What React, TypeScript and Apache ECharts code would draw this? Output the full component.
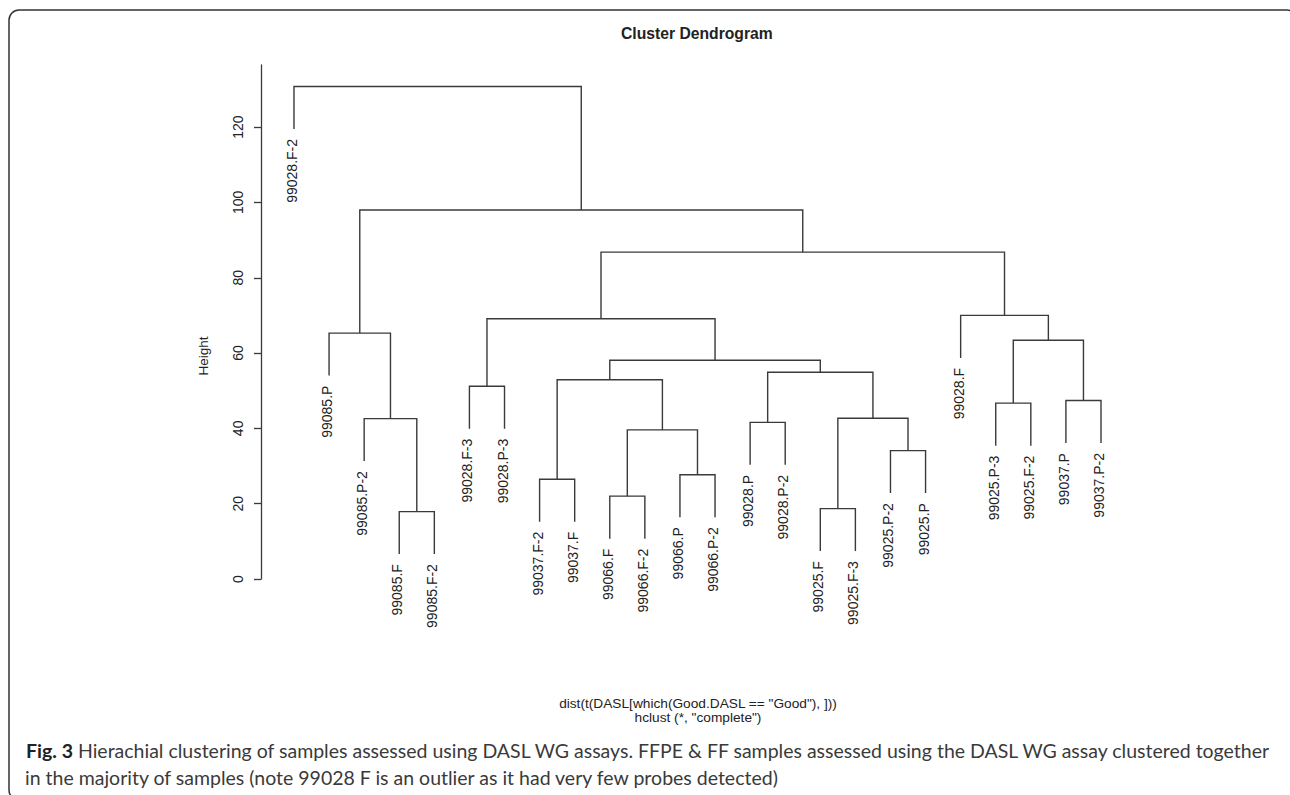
import React, { useEffect, useRef } from "react";
import * as echarts from "echarts";

// Leaf labels in dendrogram order (left to right)
const leafLabels = [
  "99028.F-2", "99085.P", "99085.P-2", "99085.F", "99085.F-2",
  "99028.F-3", "99028.P-3", "99037.F-2", "99037.F", "99066.F",
  "99066.F-2", "99066.P", "99066.P-2", "99028.P", "99028.P-2",
  "99025.F", "99025.F-3", "99025.P-2", "99025.P", "99028.F",
  "99025.P-3", "99025.F-2", "99037.P", "99037.P-2",
];

// hclust-style merge matrix: negative = leaf (1-based position in leafLabels), positive = earlier merge row (1-based)
const mergeLeft = [-4, -16, -10, -8, -12, -18, 3, -14, -3, 2, -21, -23, -6, 4, 8, 14, 11, -2, 13, -20, 19, 18, -1];
const mergeRight = [-5, -17, -11, -9, -13, -19, 5, -15, 1, 6, -22, -24, -7, 7, 10, 15, 12, 9, 16, 17, 20, 21, 22];
const mergeHeights = [
  17.9, 18.7, 22.0, 26.5, 27.7, 34.1, 39.6, 41.6, 42.6, 42.7, 46.7, 47.4,
  51.2, 52.9, 54.9, 58.1, 63.4, 65.3, 69.1, 70.0, 86.8, 98.0, 130.8,
];

const yTicks = [0, 20, 40, 60, 80, 100, 120];

const titleText = "Cluster Dendrogram";
const yName = "Height";
const subLine1 = 'dist(t(DASL[which(Good.DASL == "Good"), ]))';
const subLine2 = 'hclust (*, "complete")';
const captionBold = "Fig. 3";
const captionLine1 =
  " Hierachial clustering of samples assessed using DASL WG assays. FFPE & FF samples assessed using the DASL WG assay clustered together";
const captionLine2 =
  "in the majority of samples (note 99028 F is an outlier as it had very few probes detected)";

const LINE = "#3a3a3a";
const RFONT = "Liberation Sans, Arial, sans-serif";

function buildTree() {
  const hMin = Math.min(...mergeHeights);
  const hMax = Math.max(...mergeHeights);
  const hang = 0.1 * (hMax - hMin);
  const nodeX: number[] = [];
  const rows: number[][] = [];
  const labelsL: (string | null)[] = [];
  const labelsR: (string | null)[] = [];
  for (let i = 0; i < mergeHeights.length; i++) {
    const h = mergeHeights[i];
    const child = (c: number) => {
      if (c < 0) {
        return { x: -c, y: h - hang, label: leafLabels[-c - 1] };
      }
      return { x: nodeX[c - 1], y: mergeHeights[c - 1], label: null };
    };
    const L = child(mergeLeft[i]);
    const R = child(mergeRight[i]);
    nodeX.push((L.x + R.x) / 2);
    rows.push([L.x, L.y, R.x, R.y, h]);
    labelsL.push(L.label);
    labelsR.push(R.label);
  }
  return { rows, labelsL, labelsR };
}

export default function App() {
  const ref = useRef<HTMLDivElement>(null);

  useEffect(() => {
    document.body.style.margin = "0";
    if (!ref.current) return;
    const chart = echarts.init(ref.current, undefined, { renderer: "svg" });
    const { rows, labelsL, labelsR } = buildTree();

    const leafText = (x: number, y: number, text: string) => ({
      type: "text",
      x: x - 2,
      y: y + 10,
      rotation: Math.PI / 2,
      style: {
        text,
        fill: "#222",
        font: `14px ${RFONT}`,
        align: "right",
        verticalAlign: "middle",
      },
    });

    const option: any = {
      animation: false,
      backgroundColor: "#fff",
      title: {
        text: titleText,
        left: 621,
        top: 25,
        padding: 0,
        textStyle: {
          fontSize: 15.7,
          fontWeight: "bold",
          fontFamily: RFONT,
          color: "#222",
        },
      },
      grid: { left: 261, right: 189, top: 65, bottom: 216 },
      xAxis: {
        type: "value",
        min: 0.06,
        max: 24,
        show: false,
      },
      yAxis: {
        type: "value",
        min: 0,
        max: 136.5,
        interval: 20,
        splitLine: { show: false },
        axisLine: { show: true, lineStyle: { color: LINE, width: 1.3 } },
        axisTick: {
          show: true,
          length: 7,
          customValues: yTicks,
          lineStyle: { color: LINE, width: 1.3 },
        },
        axisLabel: {
          rotate: 90,
          margin: 16,
          customValues: yTicks,
          fontSize: 14,
          fontFamily: RFONT,
          color: "#222",
        },
      },
      series: [
        {
          type: "custom",
          coordinateSystem: "cartesian2d",
          clip: false,
          data: rows,
          encode: { x: [0, 2], y: [1, 3, 4] },
          renderItem: (params: any, api: any) => {
            const i = params.dataIndex;
            const pL0 = api.coord([api.value(0), api.value(1)]);
            const pL1 = api.coord([api.value(0), api.value(4)]);
            const pR1 = api.coord([api.value(2), api.value(4)]);
            const pR0 = api.coord([api.value(2), api.value(3)]);
            const children: any[] = [
              {
                type: "polyline",
                shape: { points: [pL0, pL1, pR1, pR0] },
                style: { stroke: LINE, lineWidth: 1.4, fill: null },
              },
            ];
            if (labelsL[i]) children.push(leafText(pL0[0], pL0[1], labelsL[i] as string));
            if (labelsR[i]) children.push(leafText(pR0[0], pR0[1], labelsR[i] as string));
            return { type: "group", children };
          },
        },
      ],
      graphic: [
        {
          type: "rect",
          shape: { x: 9, y: 10, width: 1288, height: 790, r: 10 },
          style: { fill: "none", stroke: "#333", lineWidth: 1.5 },
          silent: true,
        },
        {
          type: "text",
          x: 203,
          y: 356,
          rotation: Math.PI / 2,
          style: {
            text: yName,
            font: `13.5px ${RFONT}`,
            fill: "#222",
            align: "center",
            verticalAlign: "middle",
          },
        },
        {
          type: "text",
          x: 698,
          y: 703,
          style: {
            text: subLine1,
            font: `13.7px ${RFONT}`,
            fill: "#222",
            align: "center",
            verticalAlign: "middle",
          },
        },
        {
          type: "text",
          x: 698,
          y: 717,
          style: {
            text: subLine2,
            font: `13.7px ${RFONT}`,
            fill: "#222",
            align: "center",
            verticalAlign: "middle",
          },
        },
        {
          type: "text",
          x: 26,
          y: 750,
          style: {
            text: `{b|${captionBold}}${captionLine1}`,
            font: "19.5px Lato, sans-serif",
            fill: "#3a3a3a",
            align: "left",
            verticalAlign: "middle",
            rich: {
              b: {
                fontWeight: "bold",
                fontFamily: "Lato, sans-serif",
                fontSize: 19.5,
                fill: "#222",
              },
            },
          },
        },
        {
          type: "text",
          x: 25,
          y: 777,
          style: {
            text: captionLine2,
            font: "19.5px Lato, sans-serif",
            fill: "#3a3a3a",
            align: "left",
            verticalAlign: "middle",
          },
        },
      ],
    };

    chart.setOption(option);
    return () => chart.dispose();
  }, []);

  return <div ref={ref} style={{ width: 1290, height: 795 }} />;
}
